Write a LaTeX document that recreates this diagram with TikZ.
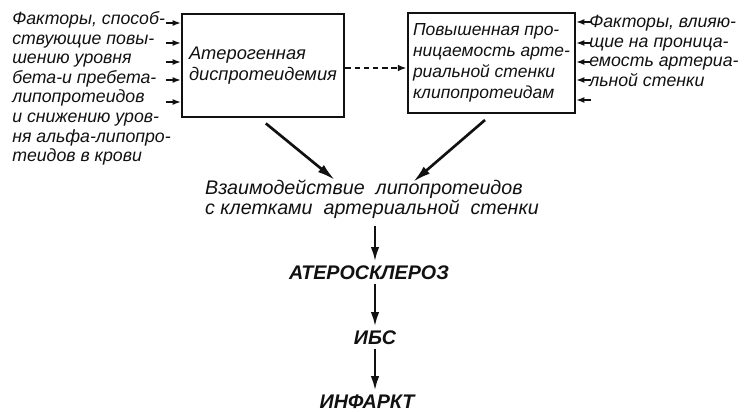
\documentclass[tikz,border=0pt]{standalone}
\usepackage{fontspec}
\setmainfont{Liberation Sans}
\usetikzlibrary{arrows.meta,positioning,calc}
\definecolor{atInk}{HTML}{111111}
\tikzset{
  atbox/.style={rectangle,draw=atInk,line width=2pt,align=left,inner sep=0pt,font=\itshape\fontsize{13}{15}\selectfont,text=atInk},
  atside/.style={align=left,inner sep=0pt,font=\itshape\fontsize{12.6}{13.9}\selectfont,text=atInk},
  atmid/.style={align=left,inner sep=2pt,font=\itshape\fontsize{14}{13}\selectfont,text=atInk},
  atcaps/.style={inner sep=3pt,font=\bfseries\itshape\fontsize{14}{16}\selectfont,text=atInk},
  atsmall/.style={-{Latex[length=2mm,width=1.5mm]},draw=atInk,line width=0.8pt},
  atbig/.style={-{Latex[length=4.5mm,width=2.3mm]},draw=atInk,line width=1.9pt},
  atdown/.style={-{Latex[length=3.6mm,width=2.1mm]},draw=atInk,line width=1.7pt},
  atdash/.style={-{Latex[length=2.2mm,width=1.7mm]},draw=atInk,line width=1.4pt,dash pattern=on 4pt off 2.5pt}
}
\begin{document}
\begin{tikzpicture}[x=0.025cm,y=-0.025cm]
\useasboundingbox (0,0) rectangle (747,412);

% ---- BLOQUES SUPERIORES ----
\node[atbox,minimum width=4.05cm,minimum height=2.575cm] (dys) at (263,65.5) {Атерогенная\\диспротеидемия};
\node[atbox,font=\itshape\fontsize{12.4}{15}\selectfont,minimum width=4.175cm,minimum height=2.5cm] (perm) at (491.5,63) {Повышенная про-\\ницаемость арте-\\риальной стенки\\клипопротеидам};
\draw[atdash] (dys.east |- 0,68) -- (perm.west |- 0,68);

% ---- FACTORES LATERALES ----
\node[atside,anchor=west] (lfac) at (12,88.5) {Факторы, способ-\\ствующие повы-\\шению уровня\\бета-и пребета-\\липопротеидов\\и снижению уров-\\ня альфа-липопро-\\теидов в крови};
\node[atside,anchor=west] (rfac) at (589,51) {Факторы, влияю-\\щие на проница-\\емость артериа-\\льной стенки};

\foreach \y [count=\i] in {23,43,62,80,102} {
  \coordinate (l\i) at (166,\y);
  \draw[atsmall] (l\i) -- (l\i -| dys.west);
}
\foreach \y [count=\i] in {22,43,62,80,100} {
  \coordinate (r\i) at (591,\y);
  \draw[atsmall] (r\i) -- (r\i -| perm.east);
}

% ---- INTERACCION Y CADENA ----
\node[atmid] (inter) at (372,199) {Взаимодействие\ \ липопротеидов\\с клетками\ \ артериальной\ \ стенки};
\coordinate (inl) at (335,180);
\coordinate (inr) at (413,182);
\draw[atbig] ([xshift=2]dys.south) ++(0,5) -- (inl);
\draw[atbig] (485,120) -- (inr);

\node[atcaps] (ath) at (369,273) {АТЕРОСКЛЕРОЗ};
\node[atcaps] (ibs) at (375,338) {ИБС};
\node[atcaps] (inf) at (367,402) {ИНФАРКТ};

\draw[atdown] (inter.south -| ibs) ++(0,5) -- (ath.north -| ibs);
\draw[atdown] (ath.south -| ibs) -- (ibs.north);
\draw[atdown] (ibs.south) -- (inf.north -| ibs);

\end{tikzpicture}
\end{document}
